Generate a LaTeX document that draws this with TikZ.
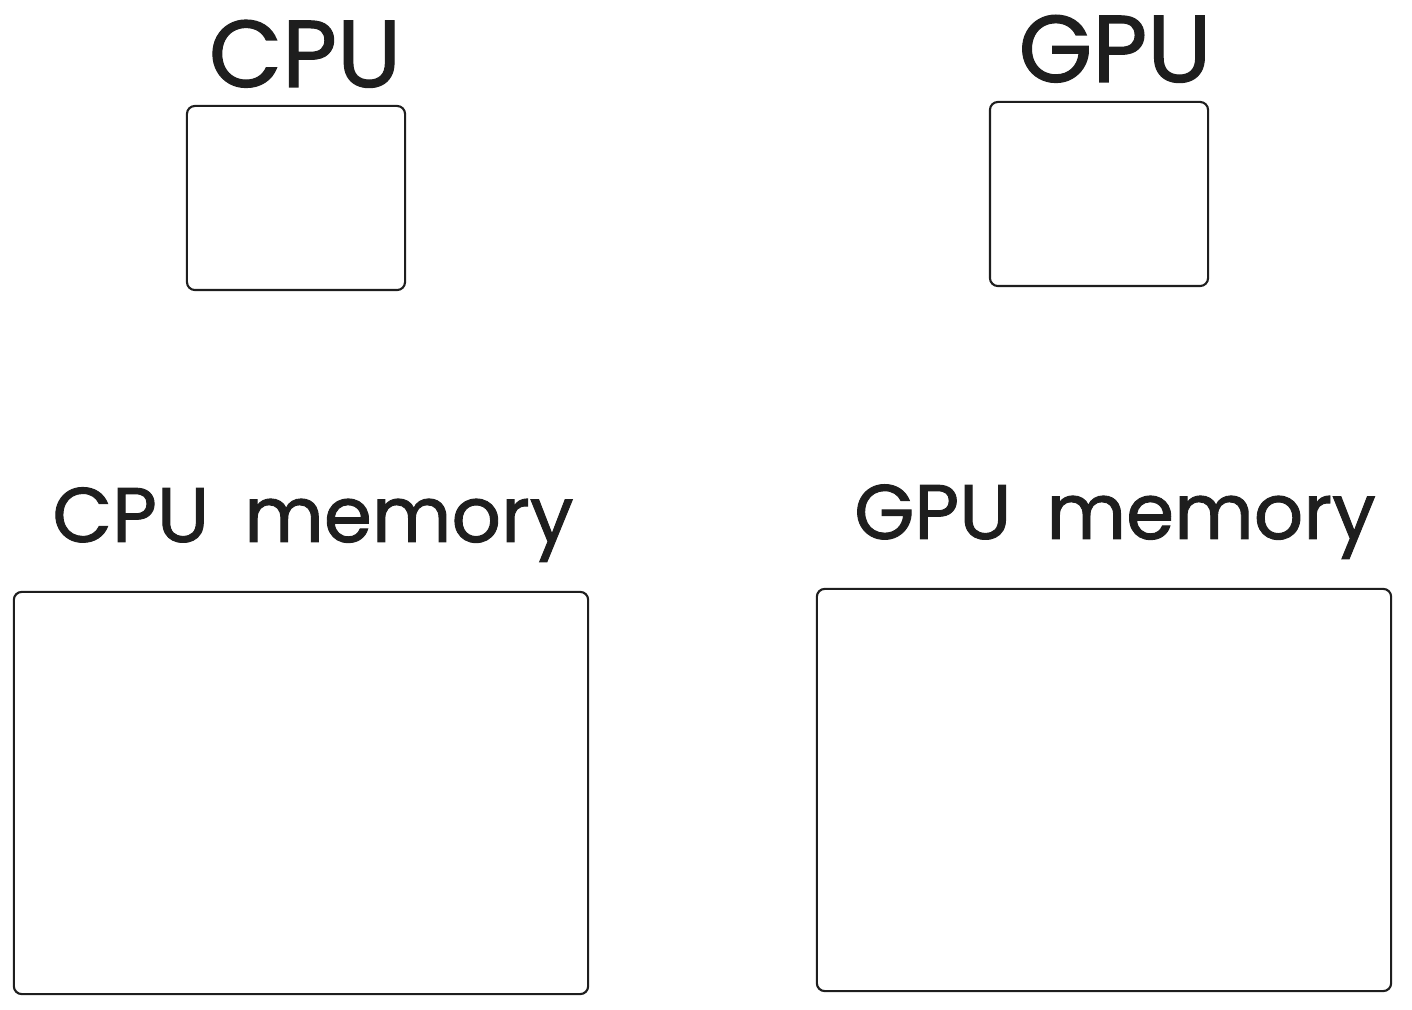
\documentclass[tikz,border=0pt]{standalone}
\usepackage{fontspec}
\setmainfont{Poppins}[WordSpace=1.7]
\usetikzlibrary{positioning}

\definecolor{inkgray}{HTML}{1E1E1E}

\tikzset{
  unitbox/.style={draw=inkgray, line width=0.6pt, rounded corners=0.08cm, inner sep=0pt},
  tag/.style={text=inkgray, anchor=base, inner sep=0pt, font=\addfontfeature{FakeBold=1.2}\fontsize{22}{26}\selectfont},
  bigtag/.style={tag, font=\addfontfeature{FakeBold=1.2}\fontsize{27}{32}\selectfont}
}

\begin{document}
\begin{tikzpicture}[x=0.01cm, y=-0.01cm]
  \useasboundingbox (0, 0) rectangle (1412, 1010);
  % processors
  \node[unitbox, minimum width=2.18cm, minimum height=1.84cm] (cpu) at (296, 198) {};
  \node[unitbox, minimum width=2.18cm, minimum height=1.84cm] (gpu) at (1099, 194) {};
  \node[bigtag] (cpulabel) at (305, 87) {CPU};
  \node[bigtag] (gpulabel) at (1115, 82) {GPU};
  % memories
  \node[unitbox, minimum width=5.74cm, minimum height=4.02cm] (cpumem) at (301, 793) {};
  \node[unitbox, minimum width=5.74cm, minimum height=4.02cm] (gpumem) at (1104, 790) {};
  \node[tag] (cpumemlabel) at (313, 542) {CPU memory};
  \node[tag] (gpumemlabel) at (1115, 539) {GPU memory};
\end{tikzpicture}
\end{document}
